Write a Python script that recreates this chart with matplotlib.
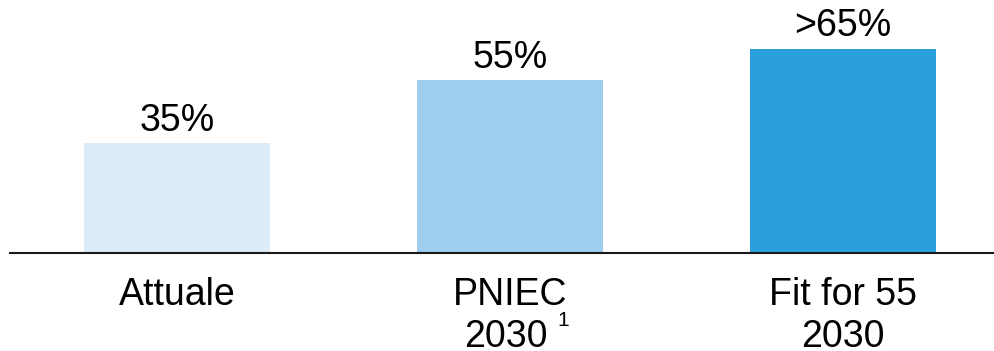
import matplotlib.pyplot as plt

plt.rcParams['font.family'] = ['Liberation Sans', 'DejaVu Sans']

categorie = ['Attuale', 'PNIEC', 'Fit for 55']
anni = ['', '2030', '2030']
valori = [35, 55, 65]
etichette = ['35%', '55%', '>65%']
colori = ['#DDEBF7', '#9FCDEE', '#2A9FDC']

fig = plt.figure(figsize=(9.94, 3.51), dpi=100)
ax = fig.add_axes([10 / 994, 98 / 351, 984 / 994, 253 / 351])

x = list(range(len(categorie)))
ax.bar(x, valori, width=0.559, color=colori)
ax.set_xlim(-0.5015, 2.4535)
ax.set_ylim(0, 80.6)
ax.axhline(0, color='#1a1a1a', linewidth=1.5, clip_on=False)

# etichette dei valori sopra le barre
for xi, v, lab in zip(x, valori, etichette):
    ax.annotate(lab, (xi, v), xytext=(0, 9), textcoords='offset points',
                ha='center', va='baseline', fontsize=27)

# etichette delle categorie sotto l'asse
tr = ax.get_xaxis_transform()
for xi, cat, anno in zip(x, categorie, anni):
    ax.text(xi, -0.205, cat, transform=tr, ha='center', va='baseline', fontsize=27)
    if anno:
        xa = xi - 0.012 if cat == 'PNIEC' else xi
        ax.text(xa, -0.37, anno, transform=tr, ha='center', va='baseline', fontsize=27)
ax.text(1.143, -0.29, '1', transform=tr, ha='left', va='baseline', fontsize=15)

ax.axis('off')
fig.savefig('out.png', dpi=100)
